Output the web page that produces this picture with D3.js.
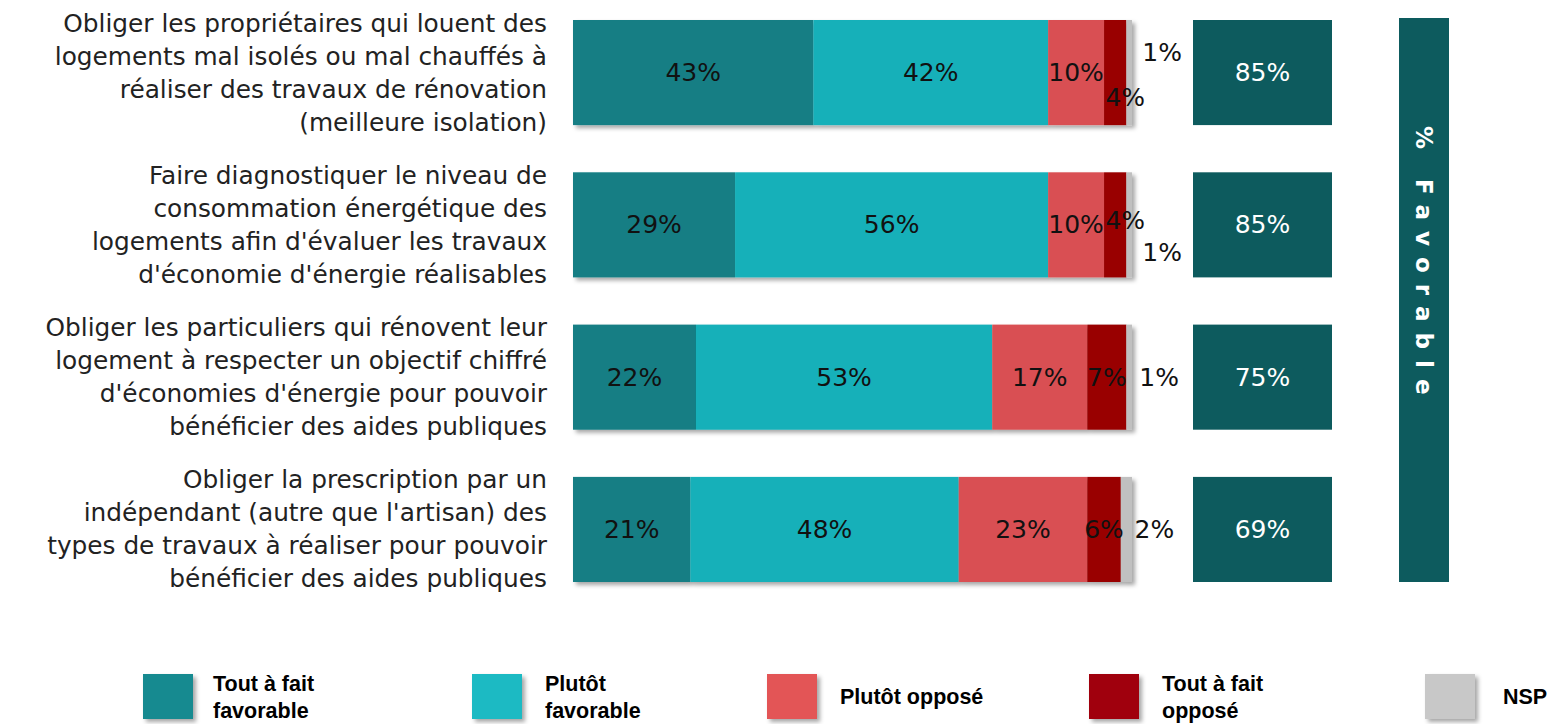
<!DOCTYPE html>
<html>
<head>
<meta charset="utf-8">
<script src="https://cdn.jsdelivr.net/npm/d3@7"></script>
<style>
  body { margin: 0; background: #fff; }
  svg { display: block; }
</style>
</head>
<body>
<svg id="chart" width="1550" height="724"></svg>
<script>
// data
const items = [
  ["Obliger les propriétaires qui louent des", "logements mal isolés ou mal chauffés à", "réaliser des travaux de rénovation", "(meilleure isolation)"],
  ["Faire diagnostiquer le niveau de", "consommation énergétique des", "logements afin d'évaluer les travaux", "d'économie d'énergie réalisables"],
  ["Obliger les particuliers qui rénovent leur", "logement à respecter un objectif chiffré", "d'économies d'énergie pour pouvoir", "bénéficier des aides publiques"],
  ["Obliger la prescription par un", "indépendant (autre que l'artisan) des", "types de travaux à réaliser pour pouvoir", "bénéficier des aides publiques"]
];
const series = ["Tout à fait favorable", "Plutôt favorable", "Plutôt opposé", "Tout à fait opposé", "NSP"];
const toutFavorable = [43, 29, 22, 21];
const plutotFavorable = [42, 56, 53, 48];
const plutotOppose = [10, 10, 17, 23];
const toutOppose = [4, 4, 7, 6];
const nsp = [1, 1, 1, 2];
const totalFavorable = [85, 85, 75, 69];

const legendLines = [["Tout à fait", "favorable"], ["Plutôt", "favorable"], ["Plutôt opposé"], ["Tout à fait", "opposé"], ["NSP"]];
const colors = ["#127e84", "#14b0b9", "#d95052", "#990000", "#c0c0c0"];
const legendColors = ["#178a90", "#1abac3", "#e35556", "#a00607", "#c8c8c8"];

// nudges for the small labels [row][series] -> [dx, dy]
const labelNudge = {
  "0-3": [10, 25], "0-4": [33, -20],
  "1-3": [10, -4], "1-4": [33, 28],
  "2-4": [30, 0], "3-4": [28, 0]
};

const font = "'DejaVu Sans', sans-serif";
const svg = d3.select("#chart");

const defs = svg.append("defs");
const f = defs.append("filter").attr("id", "shadow")
  .attr("x", "-10%").attr("y", "-10%").attr("width", "130%").attr("height", "130%");
f.append("feDropShadow").attr("dx", 3).attr("dy", 3).attr("stdDeviation", 2)
  .attr("flood-color", "#000").attr("flood-opacity", 0.35);

const rows = items.map((d, i) => ({
  i, lines: d,
  values: [toutFavorable[i], plutotFavorable[i], plutotOppose[i], toutOppose[i], nsp[i]]
}));

const x = d3.scaleLinear().domain([0, 100]).range([573, 1132]);
const y = d3.scaleBand().domain(d3.range(items.length)).range([20, 582]).paddingInner(0.31).paddingOuter(0);

const stack = d3.stack().keys(d3.range(series.length)).value((d, k) => d.values[k]);
const stacked = stack(rows);

// bars
const barG = svg.append("g");
rows.forEach(r => {
  const g = barG.append("g").attr("filter", "url(#shadow)");
  stacked.forEach((s, k) => {
    const seg = s[r.i];
    g.append("rect")
      .attr("x", x(seg[0])).attr("y", y(r.i))
      .attr("width", x(seg[1]) - x(seg[0])).attr("height", y.bandwidth())
      .attr("fill", colors[k]);
  });
});

// bar labels
stacked.forEach((s, k) => {
  s.forEach((seg, i) => {
    const nudge = labelNudge[i + "-" + k] || [0, 0];
    svg.append("text")
      .attr("x", (x(seg[0]) + x(seg[1])) / 2 + nudge[0])
      .attr("y", y(i) + y.bandwidth() / 2 + nudge[1])
      .attr("text-anchor", "middle").attr("dominant-baseline", "central")
      .attr("font-family", font).attr("font-size", 25).attr("fill", "#111")
      .text(rows[i].values[k] + "%");
  });
});

// category labels
rows.forEach(r => {
  const cy = y(r.i) + y.bandwidth() / 2;
  const t = svg.append("text")
    .attr("text-anchor", "end").attr("font-family", font).attr("font-size", 24.8).attr("fill", "#222");
  r.lines.forEach((line, j) => {
    t.append("tspan").attr("x", 547)
      .attr("y", cy + (j - (r.lines.length - 1) / 2) * 33)
      .attr("dominant-baseline", "central")
      .text(line);
  });
});

// total favorable boxes
const boxX = 1193, boxW = 139;
rows.forEach(r => {
  svg.append("rect").attr("x", boxX).attr("y", y(r.i)).attr("width", boxW).attr("height", y.bandwidth())
    .attr("fill", "#0d5b5e");
  svg.append("text").attr("x", boxX + boxW / 2).attr("y", y(r.i) + y.bandwidth() / 2)
    .attr("text-anchor", "middle").attr("dominant-baseline", "central")
    .attr("font-family", font).attr("font-size", 25).attr("fill", "#fff")
    .text(totalFavorable[r.i] + "%");
});

// vertical band
svg.append("rect").attr("x", 1399).attr("y", 18).attr("width", 50).attr("height", 564).attr("fill", "#0d5b5e");
svg.append("text")
  .attr("transform", "translate(1424,126) rotate(90)")
  .attr("dominant-baseline", "central")
  .attr("font-family", font).attr("font-size", 23).attr("font-weight", "bold")
  .attr("letter-spacing", 11).attr("fill", "#fff")
  .text("% Favorable");

// legend
const legendX = [143, 472, 767, 1089, 1425];
const legendTextDx = [70, 73, 73, 73, 78];
series.forEach((s, k) => {
  const g = svg.append("g");
  g.append("rect").attr("x", legendX[k]).attr("y", 674).attr("width", 50).attr("height", 45)
    .attr("fill", legendColors[k]).attr("filter", "url(#shadow)");
  const lines = legendLines[k];
  const t = g.append("text").attr("font-family", "'Liberation Sans', Arial, sans-serif")
    .attr("font-size", 21.5).attr("font-weight", "bold").attr("fill", "#000");
  lines.forEach((line, j) => {
    t.append("tspan").attr("x", legendX[k] + legendTextDx[k])
      .attr("y", 697 + (j - (lines.length - 1) / 2) * 27)
      .attr("dominant-baseline", "central")
      .text(line);
  });
});
</script>
</body>
</html>
